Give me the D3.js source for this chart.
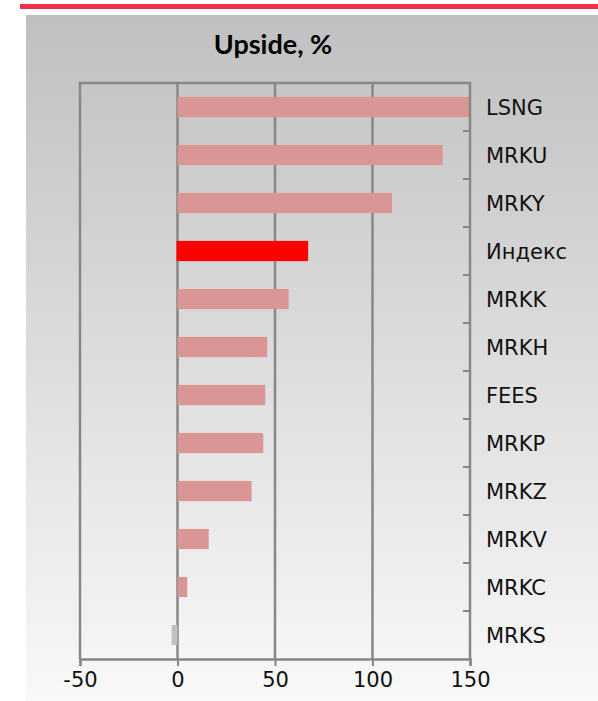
<!DOCTYPE html>
<html>
<head>
<meta charset="utf-8">
<script src="https://cdn.jsdelivr.net/npm/d3@7"></script>
<style>
  html, body { margin: 0; padding: 0; background: #fff; }
  svg { display: block; }
</style>
</head>
<body>
<svg width="598" height="701"></svg>
<script>
// tickers top to bottom, upside in %
const tickers = ["LSNG", "MRKU", "MRKY", "Индекс", "MRKK", "MRKH", "FEES", "MRKP", "MRKZ", "MRKV", "MRKC", "MRKS"];
const upside = [150, 136, 110, 67, 57, 46, 45, 44, 38, 16, 5, -3];
const xTicks = [-50, 0, 50, 100, 150];

const svg = d3.select("svg");
const W = 598, H = 701;
const margin = { top: 83, right: 128, bottom: 42, left: 80 },
    width = W - margin.left - margin.right,
    height = H - margin.top - margin.bottom;

// background gradient panel
const defs = svg.append("defs");
const grad = defs.append("linearGradient")
    .attr("id", "bg").attr("x1", 0).attr("y1", 0).attr("x2", 0).attr("y2", 1);
grad.append("stop").attr("offset", "0%").attr("stop-color", "#c0c0c0");
grad.append("stop").attr("offset", "100%").attr("stop-color", "#f9f9f9");

svg.append("rect")
    .attr("x", 26).attr("y", 15)
    .attr("width", W - 26).attr("height", H - 15)
    .attr("fill", "url(#bg)");

// red stripe on top
svg.append("rect")
    .attr("x", 20).attr("y", 4)
    .attr("width", W - 20).attr("height", 5)
    .attr("fill", "#ef3049");

svg.append("text")
    .attr("x", 273).attr("y", 54)
    .attr("text-anchor", "middle")
    .attr("font-family", "Lato, 'Open Sans', sans-serif")
    .attr("font-weight", "bold")
    .attr("font-size", "27px")
    .text("Upside, %");

const x = d3.scaleLinear().domain([-50, 150]).range([0, width]);
const y = d3.scaleBand().domain(tickers).range([0, height])
    .paddingInner(0.58).paddingOuter(0.29);

const g = svg.append("g").attr("transform", `translate(${margin.left},${margin.top})`);
const lineColor = "#878787";

// vertical gridlines
g.selectAll(".grid")
    .data(xTicks.slice(1, -1))
    .enter().append("line")
    .attr("x1", d => x(d)).attr("x2", d => x(d))
    .attr("y1", 0).attr("y2", height)
    .attr("stroke", lineColor)
    .attr("stroke-width", 2.5);

// bars
g.selectAll(".bar")
    .data(tickers)
    .enter().append("rect")
    .attr("x", (d, i) => x(Math.min(0, upside[i])) - (d === "Индекс" ? 1 : 0))
    .attr("width", (d, i) => Math.abs(x(upside[i]) - x(0)) + (d === "Индекс" ? 1 : 0))
    .attr("y", d => y(d))
    .attr("height", y.bandwidth())
    .attr("fill", (d, i) => d === "Индекс" ? "#ff0000" : (upside[i] < 0 ? "#c0c0c0" : "#d99694"));

// frame: left, top, right
g.append("path")
    .attr("d", `M0,${height}V0H${width}V${height}`)
    .attr("fill", "none")
    .attr("stroke", lineColor)
    .attr("stroke-width", 2.5);

// right axis ticks between categories
const step = y.step();
g.selectAll(".rtick")
    .data(d3.range(1, tickers.length))
    .enter().append("line")
    .attr("x1", width - 7).attr("x2", width)
    .attr("y1", d => d * step).attr("y2", d => d * step)
    .attr("stroke", lineColor)
    .attr("stroke-width", 2);

// category labels on the right
g.selectAll(".lbl")
    .data(tickers)
    .enter().append("text")
    .attr("x", width + 16)
    .attr("y", d => y(d) + y.bandwidth() / 2)
    .attr("dy", "0.36em")
    .attr("font-family", "'DejaVu Sans', sans-serif")
    .attr("font-size", "21px")
    .attr("fill", "#111")
    .text(d => d);

// bottom axis
const xAxis = g.append("g")
    .attr("transform", `translate(0,${height})`)
    .call(d3.axisBottom(x).tickValues(xTicks).tickFormat(d => String(d)).tickSize(7).tickPadding(6));
xAxis.select(".domain").attr("stroke", lineColor).attr("stroke-width", 2.5);
xAxis.selectAll(".tick line").attr("stroke", lineColor).attr("stroke-width", 2);
xAxis.selectAll(".tick text")
    .attr("font-family", "'DejaVu Sans', sans-serif")
    .attr("font-size", "21px")
    .attr("fill", "#111");
</script>
</body>
</html>
